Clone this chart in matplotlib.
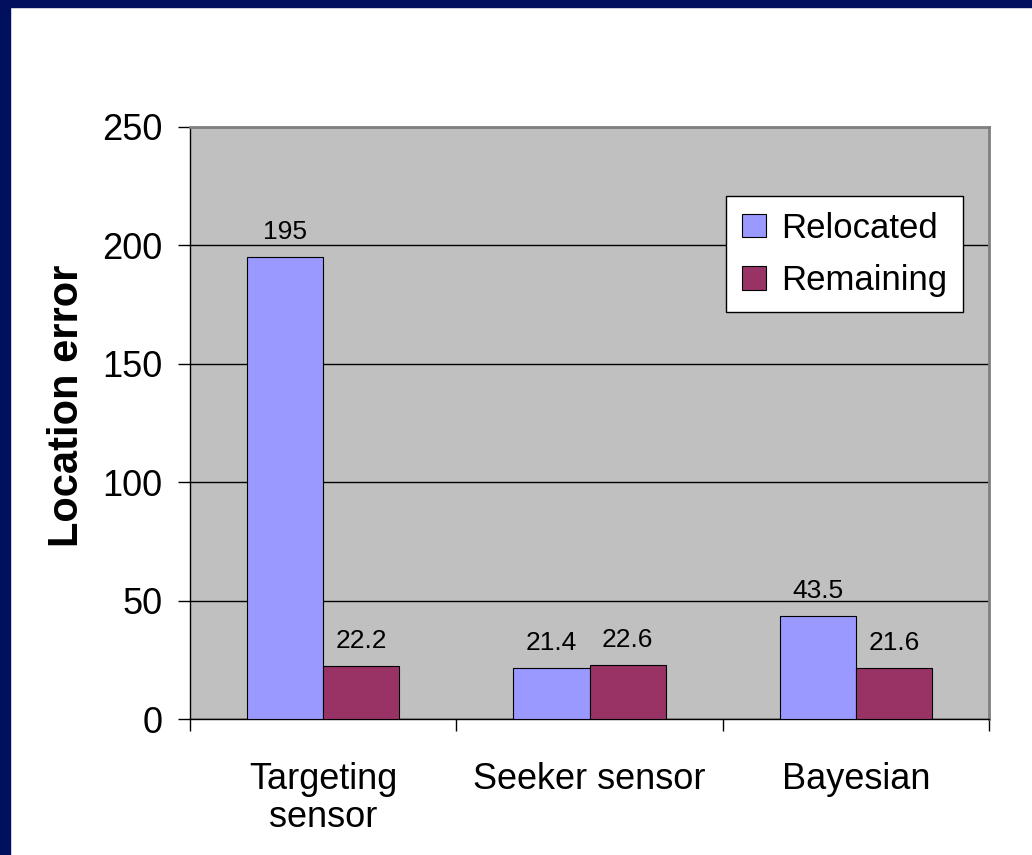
import matplotlib
matplotlib.use("Agg")
import matplotlib.pyplot as plt
import numpy as np
from matplotlib.patches import Rectangle

plt.rcParams['font.family'] = ['Liberation Sans', 'DejaVu Sans']

categorias = ["Targeting\nsensor", "Seeker sensor", "Bayesian"]
series = ["Relocated", "Remaining"]
relocated = [195, 21.4, 43.5]
remaining = [22.2, 22.6, 21.6]
etiquetas_rel = ["195", "21.4", "43.5"]
etiquetas_rem = ["22.2", "22.6", "21.6"]
y_ticks = [0, 50, 100, 150, 200, 250]

COLOR_REL = "#9999FF"
COLOR_REM = "#993366"
COLOR_FONDO = "#C0C0C0"
AZUL_MARCO = "#000F5E"
ANCHO = 1.0 / 3.5

fig = plt.figure(figsize=(10.32, 8.55), dpi=100)
fig.patch.set_facecolor("white")

# marco azul de la diapositiva (izquierda y arriba)
fig.patches.append(Rectangle((0, 0), 10 / 1032, 1, transform=fig.transFigure,
                             color=AZUL_MARCO, zorder=0))
fig.patches.append(Rectangle((0, 1 - 7 / 855), 1, 7 / 855, transform=fig.transFigure,
                             color=AZUL_MARCO, zorder=0))

ax = fig.add_axes([190 / 1032, 1 - 719 / 855, 799 / 1032, 592 / 855])
ax.set_facecolor(COLOR_FONDO)

x = np.arange(len(categorias))
barras1 = ax.bar(x - ANCHO / 2, relocated, ANCHO, color=COLOR_REL,
                 edgecolor="black", linewidth=0.8, label=series[0], zorder=3)
barras2 = ax.bar(x + ANCHO / 2, remaining, ANCHO, color=COLOR_REM,
                 edgecolor="black", linewidth=0.8, label=series[1], zorder=3)

for b, t in zip(barras1, etiquetas_rel):
    ax.annotate(t, (b.get_x() + b.get_width() / 2, b.get_height()),
                xytext=(0, 13), textcoords="offset points",
                ha="center", va="baseline", fontsize=19)
for b, t in zip(barras2, etiquetas_rem):
    ax.annotate(t, (b.get_x() + b.get_width() / 2, b.get_height()),
                xytext=(0, 13), textcoords="offset points",
                ha="center", va="baseline", fontsize=19)

ax.set_xlim(-0.5, 2.5)
ax.set_ylim(0, 250)
ax.set_yticks(y_ticks)
ax.set_yticklabels([str(v) for v in y_ticks], fontsize=26)
ax.tick_params(axis="y", length=8.6, width=1, pad=11, direction="out")

ax.set_xticks(x)
ax.set_xticklabels(categorias, fontsize=26, linespacing=1.12)
ax.set_xticks([-0.5, 0.5, 1.5, 2.5], minor=True)
ax.tick_params(axis="x", which="major", length=0, pad=31)
ax.tick_params(axis="x", which="minor", length=8.6, width=1, direction="out")

ax.yaxis.grid(True, color="black", linewidth=1)
ax.set_axisbelow(True)

for lado in ["top", "right"]:
    ax.spines[lado].set_color("#808080")
    ax.spines[lado].set_linewidth(2)
for lado in ["left", "bottom"]:
    ax.spines[lado].set_color("black")
    ax.spines[lado].set_linewidth(1)

fig.text(67 / 1032, 1 - 406 / 855, "Location error", rotation=90,
         ha="center", va="center", fontsize=30, fontweight="bold")

leg = ax.legend(loc="upper right", bbox_to_anchor=(0.9675, 0.8834), borderaxespad=0,
                fontsize=25, frameon=True, fancybox=False, edgecolor="black",
                handlelength=0.68, handleheight=0.68, handletextpad=0.45,
                borderpad=0.45, labelspacing=0.55, framealpha=1)
leg.get_frame().set_linewidth(1)
leg.get_frame().set_facecolor("white")

fig.savefig("out.png", dpi=100)
